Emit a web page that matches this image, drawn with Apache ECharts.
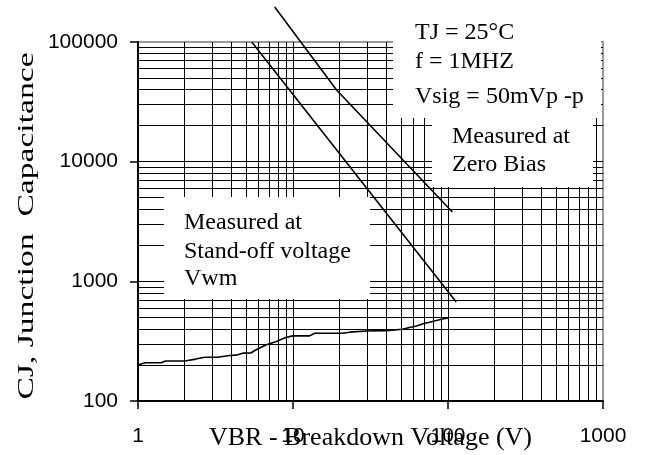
<!DOCTYPE html>
<html>
<head>
<meta charset="utf-8">
<script src="https://cdn.jsdelivr.net/npm/echarts@6/dist/echarts.min.js"></script>
<style>
html,body{margin:0;padding:0;background:#fff;}
#c{width:649px;height:455px;}
</style>
</head>
<body>
<div id="c"></div>
<script>
// ---- data ----
const xTickLabels = ['1', '10', '100', '1000'];
const yTickLabels = ['100', '1000', '10000', '100000'];
const yTitle = 'CJ, Junction  Capacitance';
const minorX = [2,3,4,5,6,7,8,9,20,30,40,50,60,70,80,90,200,300,400,500,600,700,800,900];
const minorY = [200,300,400,500,600,700,800,900,2000,3000,4000,5000,6000,7000,8000,9000,20000,30000,40000,50000,60000,70000,80000,90000];

// Measured at Zero Bias
const zeroBiasV = [7.62, 19.1, 106.7];
const zeroBiasC = [196000, 39700, 3800];
// Measured at Stand-off voltage (upper straight line)
const standoffV = [5.42, 113];
const standoffC = [100000, 673];
// Low curve
const lowV = [1, 1.11, 1.41, 1.51, 2.01, 2.36, 2.70, 3.27, 3.80, 4.40, 4.74, 5.34, 5.75, 6.67, 7.74, 8.98, 9.96, 12.8, 13.8, 20.9, 23.2, 29.8, 40.1, 50.8, 56.4, 62.6, 68.4, 75.9, 84.2, 92.0, 100.6];
const lowC = [200, 209, 209, 216, 216, 224, 232, 232, 239, 243, 251, 252, 267, 294, 313, 339, 350, 350, 368, 368, 376, 385, 387, 398, 411, 424, 441, 455, 470, 485, 494];

const pairs = (xs, ys) => xs.map((x, i) => [x, ys[i]]);

const chart = echarts.init(document.getElementById('c'), null, {renderer: 'canvas'});
const serif = '"Liberation Serif", "Times New Roman", serif';
const sans = '"Liberation Sans", Arial, sans-serif';

const lineStyleData = {color: '#000', width: 1.6};

const option = {
  animation: false,
  backgroundColor: '#fff',
  grid: {left: 138, top: 42, right: 46, bottom: 54, containLabel: false, outerBoundsMode: 'none',
    show: true, borderColor: '#999', borderWidth: 2, backgroundColor: 'transparent'},
  xAxis: {
    type: 'log', logBase: 10, min: 1, max: 1000,
    name: 'VBR - Breakdown Voltage (V)', nameLocation: 'middle', nameGap: 24, nameMoveOverlap: false,
    nameTextStyle: {fontFamily: serif, fontSize: 26, color: '#000'},
    axisLine: {show: true, onZero: false, lineStyle: {color: '#000', width: 2}},
    axisTick: {show: true, inside: false, length: 8, lineStyle: {color: '#000', width: 1.5}},
    axisLabel: {margin: 25, fontFamily: sans, fontSize: 21, color: '#000',
      formatter: v => xTickLabels[Math.round(Math.log10(v))] || ''},
    splitLine: {show: true, showMinLine: false, showMaxLine: false, lineStyle: {color: '#000', width: 1}},
    minorTick: {show: false}
  },
  yAxis: {
    type: 'log', logBase: 10, min: 100, max: 100000,
    axisLine: {show: true, onZero: false, lineStyle: {color: '#000', width: 2}},
    axisTick: {show: true, inside: false, length: 8, lineStyle: {color: '#000', width: 1.5}},
    axisLabel: {margin: 20, fontFamily: sans, fontSize: 21, color: '#000',
      formatter: v => yTickLabels[Math.round(Math.log10(v)) - 2] || ''},
    splitLine: {show: true, showMinLine: false, showMaxLine: false, lineStyle: {color: '#000', width: 1}}
  },
  series: [
    {
      type: 'line', z: 1, data: [], silent: true,
      markLine: {
        silent: true, symbol: 'none', animation: false,
        label: {show: false},
        lineStyle: {color: '#000', width: 1, type: 'solid'},
        emphasis: {disabled: true},
        data: minorX.map(v => ({xAxis: v})).concat(minorY.map(v => ({yAxis: v})))
      }
    },
    {type: 'line', zlevel: 2, z: 10, clip: false, symbol: 'none', data: pairs(zeroBiasV, zeroBiasC), lineStyle: lineStyleData},
    {type: 'line', zlevel: 2, z: 10, clip: false, symbol: 'none', data: pairs(standoffV, standoffC), lineStyle: lineStyleData},
    {type: 'line', zlevel: 2, z: 10, symbol: 'none', data: pairs(lowV, lowC), lineStyle: lineStyleData}
  ],
  graphic: [
    {type: 'rect', zlevel: 1, shape: {x: 393, y: 0, width: 208, height: 118}, style: {fill: '#fff'}},
    {type: 'rect', zlevel: 1, shape: {x: 432, y: 118, width: 161, height: 69}, style: {fill: '#fff'}},
    {type: 'rect', zlevel: 1, shape: {x: 164, y: 197, width: 206, height: 102}, style: {fill: '#fff'}},
    {type: 'text', zlevel: 3, style: {text: 'TJ = 25°C', x: 415, y: 33, font: '24px ' + serif, fill: '#000', verticalAlign: 'middle'}},
    {type: 'text', zlevel: 3, style: {text: 'f = 1MHZ', x: 415, y: 62, font: '24px ' + serif, fill: '#000', verticalAlign: 'middle'}},
    {type: 'text', zlevel: 3, style: {text: 'Vsig = 50mVp -p', x: 415, y: 97, font: '24px ' + serif, fill: '#000', verticalAlign: 'middle'}},
    {type: 'text', zlevel: 3, style: {text: 'Measured at', x: 452, y: 137, font: '24px ' + serif, fill: '#000', verticalAlign: 'middle'}},
    {type: 'text', zlevel: 3, style: {text: 'Zero Bias', x: 452, y: 165, font: '24px ' + serif, fill: '#000', verticalAlign: 'middle'}},
    {type: 'text', zlevel: 3, style: {text: 'Measured at', x: 184, y: 223, font: '24px ' + serif, fill: '#000', verticalAlign: 'middle'}},
    {type: 'text', zlevel: 3, style: {text: 'Stand-off voltage', x: 184, y: 252, font: '24px ' + serif, fill: '#000', verticalAlign: 'middle'}},
    {type: 'text', zlevel: 3, style: {text: 'Vwm', x: 184, y: 279, font: '24px ' + serif, fill: '#000', verticalAlign: 'middle'}},
    {type: 'text', zlevel: 3, x: 27, y: 226, rotation: Math.PI / 2, scaleX: 1.4,
      style: {text: yTitle, font: '24px ' + serif, fill: '#000', align: 'center', verticalAlign: 'middle'}}
  ]
};
chart.setOption(option);
</script>
</body>
</html>
